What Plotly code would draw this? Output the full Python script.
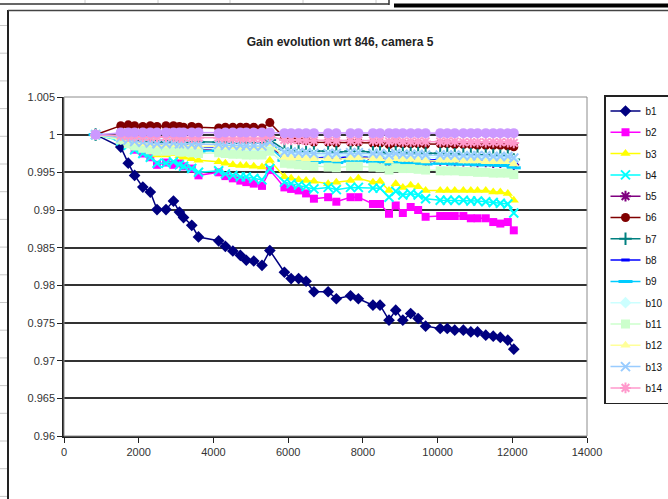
import plotly.graph_objects as go

TITLE = "Gain evolution wrt 846, camera 5"

run_x = [846, 1520, 1720, 1890, 2110, 2310, 2490, 2730, 2930, 3090, 3200, 3420, 3600, 4140,
         4320, 4520, 4720, 4880, 5080, 5300, 5510, 5900, 6080, 6280, 6480, 6690, 7070, 7290,
         7670, 7880, 8270, 8460, 8700, 8880, 9070, 9280, 9480, 9680, 10070, 10260, 10460,
         10690, 10890, 11070, 11290, 11490, 11680, 11880, 12040]

b1 = [1.0, 0.99835, 0.99622, 0.99459, 0.99304, 0.99238, 0.99005, 0.99005, 0.99119, 0.98973,
      0.98899, 0.98797, 0.98642, 0.98591, 0.98518, 0.98456, 0.98399, 0.98333, 0.98323, 0.98266,
      0.98461, 0.98174, 0.98090, 0.98090, 0.98054, 0.97915, 0.97915, 0.97822, 0.97862, 0.97822,
      0.97736, 0.97736, 0.97537, 0.97670, 0.97537, 0.97626, 0.97560, 0.97458, 0.97427, 0.97427,
      0.97405, 0.97405, 0.97382, 0.97382, 0.97339, 0.97325, 0.97308, 0.97272, 0.97153]
b2 = [1.0, 0.9995, 0.999, 0.998, 0.9975, 0.997, 0.996, 0.9963, 0.996, 0.9962, 0.9958, 0.9955,
      0.9946, 0.995, 0.9945, 0.9942, 0.9939, 0.9937, 0.9935, 0.9932, 0.9953, 0.993, 0.9928,
      0.9926, 0.9922, 0.9915, 0.9917, 0.9911, 0.9917, 0.9917, 0.9908, 0.9908, 0.9895, 0.9906,
      0.9896, 0.9904, 0.99, 0.9891, 0.9892, 0.9892, 0.9892, 0.9892, 0.9889, 0.9889, 0.9889,
      0.9884, 0.9882, 0.9884, 0.9873]
b3 = [1.0, 0.9993, 0.9988, 0.9984, 0.998, 0.9977, 0.9973, 0.9973, 0.9975, 0.9972, 0.997, 0.9968,
      0.9966, 0.9964, 0.9962, 0.996, 0.9959, 0.9959, 0.9958, 0.9957, 0.9966, 0.9944, 0.9942,
      0.994, 0.9939, 0.9938, 0.9935, 0.9937, 0.9939, 0.9942, 0.9937, 0.9938, 0.9926, 0.9935,
      0.993, 0.9933, 0.9931, 0.9926, 0.9926, 0.9926, 0.9926, 0.9926, 0.9926, 0.9926, 0.9926,
      0.9924, 0.9924, 0.9922, 0.9913]
b4 = [1.0, 0.9992, 0.9986, 0.998, 0.9975, 0.997, 0.9962, 0.9962, 0.9964, 0.996, 0.9958, 0.9955,
      0.995, 0.9952, 0.9948, 0.9946, 0.9944, 0.9944, 0.9942, 0.994, 0.9955, 0.9937, 0.9935,
      0.9933, 0.9931, 0.9928, 0.993, 0.9927, 0.993, 0.993, 0.9929, 0.9929, 0.9917, 0.9925,
      0.992, 0.9922, 0.992, 0.9915, 0.9913, 0.9913, 0.9913, 0.9913, 0.9912, 0.9912, 0.9911,
      0.991, 0.9909, 0.9908, 0.9896]
b5 = [1.0, 0.9995, 0.9992, 0.999, 0.9988, 0.9986, 0.9984, 0.9984, 0.9985, 0.9983, 0.9982,
      0.9981, 0.998, 0.998, 0.9979, 0.9978, 0.9977, 0.9977, 0.9976, 0.9976, 0.9982, 0.9972,
      0.9971, 0.997, 0.997, 0.9969, 0.9969, 0.9968, 0.997, 0.997, 0.9968, 0.9968, 0.9964,
      0.9967, 0.9966, 0.9966, 0.9965, 0.9964, 0.9966, 0.9966, 0.9965, 0.9965, 0.9965, 0.9964,
      0.9964, 0.9963, 0.9963, 0.9963, 0.996]
b6 = [1.0, 1.0012, 1.0013, 1.0012, 1.0011, 1.0012, 1.0011, 1.0012, 1.0012, 1.0011, 1.001,
      1.0011, 1.001, 1.0009, 1.001, 1.001, 1.001, 1.001, 1.001, 1.0009, 1.0016, 0.9996, 0.9995,
      0.9993, 0.9992, 0.999, 0.999, 0.9989, 0.999, 0.999, 0.9989, 0.9989, 0.9987, 0.9989,
      0.9988, 0.9988, 0.9988, 0.9987, 0.9988, 0.9988, 0.9987, 0.9987, 0.9987, 0.9986, 0.9986,
      0.9986, 0.9986, 0.9985, 0.9984]
b7 = [1.0, 0.9996, 0.9994, 0.9993, 0.9992, 0.9992, 0.9991, 0.9991, 0.9992, 0.9991, 0.9991,
      0.999, 0.999, 0.999, 0.999, 0.9989, 0.9989, 0.9989, 0.9989, 0.9989, 0.9993, 0.998,
      0.9979, 0.9979, 0.9978, 0.9978, 0.9978, 0.9977, 0.9978, 0.9978, 0.9977, 0.9977, 0.9975,
      0.9977, 0.9976, 0.9976, 0.9976, 0.9975, 0.9975, 0.9975, 0.9974, 0.9974, 0.9974, 0.9973,
      0.9973, 0.9973, 0.9972, 0.9972, 0.9967]
b8 = [1.0, 0.9995, 0.9992, 0.999, 0.9988, 0.9987, 0.9986, 0.9986, 0.9987, 0.9985, 0.9985,
      0.9984, 0.9983, 0.9984, 0.9983, 0.9982, 0.9982, 0.9982, 0.9981, 0.9981, 0.9987, 0.9972,
      0.9971, 0.9971, 0.997, 0.9969, 0.997, 0.9969, 0.9971, 0.9971, 0.997, 0.997, 0.9966,
      0.9969, 0.9968, 0.9968, 0.9967, 0.9966, 0.9967, 0.9967, 0.9967, 0.9966, 0.9966, 0.9966,
      0.9966, 0.9965, 0.9965, 0.9965, 0.9962]
b9 = [1.0, 0.9994, 0.999, 0.9987, 0.9985, 0.9983, 0.9981, 0.9981, 0.9982, 0.998, 0.998,
      0.9979, 0.9978, 0.9979, 0.9978, 0.9977, 0.9977, 0.9976, 0.9976, 0.9976, 0.9983, 0.9966,
      0.9965, 0.9965, 0.9964, 0.9963, 0.9964, 0.9963, 0.9965, 0.9965, 0.9964, 0.9964, 0.9961,
      0.9963, 0.9962, 0.9962, 0.9962, 0.9961, 0.9962, 0.9962, 0.9961, 0.9961, 0.9961, 0.996,
      0.996, 0.996, 0.9959, 0.9959, 0.9956]
b10 = [1.0, 0.9994, 0.999, 0.9988, 0.9986, 0.9985, 0.9984, 0.9984, 0.9985, 0.9983, 0.9983,
       0.9982, 0.9982, 0.9982, 0.9981, 0.9981, 0.998, 0.998, 0.998, 0.998, 0.9985, 0.9975,
       0.9974, 0.9974, 0.9973, 0.9973, 0.9973, 0.9972, 0.9973, 0.9973, 0.9972, 0.9972, 0.997,
       0.9972, 0.9971, 0.9971, 0.9971, 0.997, 0.997, 0.997, 0.997, 0.9969, 0.9969, 0.9969,
       0.9969, 0.9968, 0.9968, 0.9968, 0.9966]
b11 = [1.0, 0.9993, 0.9988, 0.9985, 0.9982, 0.998, 0.9978, 0.9978, 0.9979, 0.9977, 0.9977,
       0.9976, 0.9975, 0.9976, 0.9975, 0.9974, 0.9974, 0.9973, 0.9973, 0.9973, 0.9978, 0.9962,
       0.9961, 0.996, 0.9959, 0.9958, 0.9957, 0.9956, 0.9958, 0.9958, 0.9957, 0.9956, 0.9953,
       0.9956, 0.9955, 0.9955, 0.9954, 0.9953, 0.9952, 0.9952, 0.9952, 0.9951, 0.9951, 0.995,
       0.995, 0.9949, 0.9949, 0.9949, 0.9947]
b12 = [1.0, 0.9995, 0.9992, 0.999, 0.9988, 0.9987, 0.9986, 0.9986, 0.9987, 0.9986, 0.9986,
       0.9985, 0.9984, 0.9985, 0.9984, 0.9984, 0.9983, 0.9983, 0.9983, 0.9983, 0.9988, 0.997,
       0.9969, 0.9969, 0.9968, 0.9968, 0.9968, 0.9967, 0.9969, 0.9969, 0.9968, 0.9968, 0.9965,
       0.9968, 0.9967, 0.9967, 0.9966, 0.9965, 0.9966, 0.9966, 0.9966, 0.9965, 0.9965, 0.9965,
       0.9964, 0.9964, 0.9964, 0.9964, 0.9961]
b13 = [1.0, 0.9996, 0.9993, 0.9991, 0.999, 0.9989, 0.9988, 0.9988, 0.9989, 0.9988, 0.9988,
       0.9987, 0.9987, 0.9987, 0.9986, 0.9986, 0.9986, 0.9985, 0.9985, 0.9985, 0.999, 0.9977,
       0.9977, 0.9976, 0.9976, 0.9975, 0.9975, 0.9975, 0.9976, 0.9976, 0.9975, 0.9975, 0.9973,
       0.9975, 0.9974, 0.9974, 0.9974, 0.9973, 0.9973, 0.9973, 0.9973, 0.9972, 0.9972, 0.9972,
       0.9972, 0.9971, 0.9971, 0.9971, 0.9969]
b14 = [1.0, 0.9999, 0.9998, 0.9998, 0.9997, 0.9997, 0.9997, 0.9997, 0.9997, 0.9996, 0.9996,
       0.9996, 0.9996, 0.9996, 0.9995, 0.9995, 0.9995, 0.9995, 0.9995, 0.9995, 0.9998, 0.9993,
       0.9993, 0.9993, 0.9992, 0.9992, 0.9992, 0.9992, 0.9992, 0.9992, 0.9992, 0.9992, 0.9991,
       0.9992, 0.9991, 0.9991, 0.9991, 0.9991, 0.9991, 0.9991, 0.9991, 0.999, 0.999, 0.999,
       0.999, 0.999, 0.999, 0.999, 0.9989]
b15 = [1.0, 1.0003, 1.0003, 1.0003, 1.0003, 1.0003, 1.0003, 1.0003, 1.0003, 1.0003, 1.0003,
       1.0003, 1.0003, 1.0002, 1.0003, 1.0003, 1.0003, 1.0003, 1.0003, 1.0003, 1.0003, 1.0002,
       1.0002, 1.0002, 1.0002, 1.0002, 1.0002, 1.0002, 1.0002, 1.0002, 1.0002, 1.0002, 1.0002,
       1.0002, 1.0002, 1.0002, 1.0002, 1.0002, 1.0002, 1.0002, 1.0002, 1.0002, 1.0002, 1.0002,
       1.0002, 1.0002, 1.0002, 1.0002, 1.0002]

series_names = ["b1", "b2", "b3", "b4", "b5", "b6", "b7", "b8", "b9", "b10", "b11", "b12",
                "b13", "b14", "b15"]
series_values = [b1, b2, b3, b4, b5, b6, b7, b8, b9, b10, b11, b12, b13, b14, b15]

y_tick_vals = [0.96, 0.965, 0.97, 0.975, 0.98, 0.985, 0.99, 0.995, 1.0, 1.005]
y_tick_text = ["0.96", "0.965", "0.97", "0.975", "0.98", "0.985", "0.99", "0.995", "1", "1.005"]
x_tick_vals = [0, 2000, 4000, 6000, 8000, 10000, 12000, 14000]
x_tick_text = ["0", "2000", "4000", "6000", "8000", "10000", "12000", "14000"]

colors = ["#000080", "#FF00FF", "#FFFF00", "#00FFFF", "#800080", "#800000", "#008080",
          "#0000FF", "#00CCFF", "#CCFFFF", "#CCFFCC", "#FFFF99", "#99CCFF", "#FF99CC",
          "#CC99FF"]
symbols = ["diamond", "square", "triangle-up", "x-thin", "asterisk", "circle", "cross-thin",
           "line-ew", "line-ew", "diamond", "square", "triangle-up", "x-thin", "asterisk",
           "circle"]
sizes = [9, 8, 9, 9, 9, 9, 9, 6, 10, 9, 9, 9, 9, 9, 10]

W, H = 668, 499
L, R, T, B = 64, 81, 97, 63
PW, PH = W - L - R, H - T - B


def px(x):
    return (x - L) / PW


def py(y):
    return (H - B - y) / PH


fig = go.Figure()
for i, (name, vals) in enumerate(zip(series_names, series_values)):
    sym = symbols[i]
    thin = sym in ("x-thin", "asterisk", "cross-thin", "line-ew")
    marker = dict(symbol=sym, size=sizes[i], color=colors[i],
                  line=dict(color=colors[i], width=2 if thin else 0))
    if sym == "line-ew":
        marker["line"]["width"] = 3
    fig.add_trace(go.Scatter(
        x=run_x, y=vals, name=name, mode="lines+markers",
        line=dict(color=colors[i], width=1.5),
        marker=marker,
        showlegend=(name != "b15"),
        legendgroup=name,
    ))

shapes = []
shapes.append(dict(type="rect", xref="paper", yref="paper", x0=0, x1=1, y0=0, y1=1,
                   line=dict(color="#8c8c8c", width=1), layer="above"))
shapes.append(dict(type="line", xref="paper", yref="paper", x0=px(8), x1=px(8),
                   y0=py(10), y1=py(499), line=dict(color="#222", width=2)))
shapes.append(dict(type="line", xref="paper", yref="paper", x0=px(8), x1=px(668),
                   y0=py(10.5), y1=py(10.5), line=dict(color="#444", width=1.5)))
shapes.append(dict(type="line", xref="paper", yref="paper", x0=px(0), x1=px(389),
                   y0=py(4), y1=py(4), line=dict(color="#333", width=1.5)))
shapes.append(dict(type="line", xref="paper", yref="paper", x0=px(389), x1=px(389),
                   y0=py(0), y1=py(5), line=dict(color="#333", width=1.5)))
shapes.append(dict(type="line", xref="paper", yref="paper", x0=px(394), x1=px(668),
                   y0=py(5.5), y1=py(5.5), line=dict(color="#000", width=4)))
for gx in [85, 158, 230, 303, 376]:
    shapes.append(dict(type="line", xref="paper", yref="paper", x0=px(gx), x1=px(gx),
                       y0=py(0), y1=py(3), line=dict(color="#cccccc", width=1)))
gy = 25.5
while gy < 499:
    shapes.append(dict(type="line", xref="paper", yref="paper", x0=px(0), x1=px(7),
                       y0=py(gy), y1=py(gy), line=dict(color="#c8c8c8", width=1)))
    gy += 27.7

font_family = "Liberation Sans Narrow, Arial Narrow, Liberation Sans, Arial, sans-serif"

fig.update_layout(
    width=W, height=H,
    margin=dict(l=L, r=R, t=T, b=B, autoexpand=False),
    paper_bgcolor="white", plot_bgcolor="white",
    font=dict(family=font_family, color="#222", size=11),
    title=dict(text="<b>" + TITLE + "</b>", x=340 / W, xanchor="center",
               y=1 - 42 / H, yanchor="middle", yref="container",
               font=dict(size=12, color="#222", family=font_family)),
    xaxis=dict(range=[0, 14000], tickvals=x_tick_vals, ticktext=x_tick_text,
               showgrid=False, zeroline=False, showline=True, linecolor="#222",
               linewidth=1.5, ticks="outside", ticklen=5, tickcolor="#222",
               tickfont=dict(size=11, color="#333")),
    yaxis=dict(range=[0.96, 1.005], tickvals=y_tick_vals, ticktext=y_tick_text,
               showgrid=True, gridcolor="#333", gridwidth=1.6, zeroline=False,
               showline=True, linecolor="#222", linewidth=1.5, ticks="outside",
               ticklen=5, tickcolor="#222", tickfont=dict(size=11, color="#333")),
    legend=dict(x=px(604), y=py(95), xanchor="left", yanchor="top",
                bordercolor="#222", borderwidth=1.5, bgcolor="white",
                font=dict(size=10, color="#111", family=font_family),
                itemwidth=30, tracegroupgap=2.3, maxheight=460),
    shapes=shapes,
)

fig.write_html("out.html")
